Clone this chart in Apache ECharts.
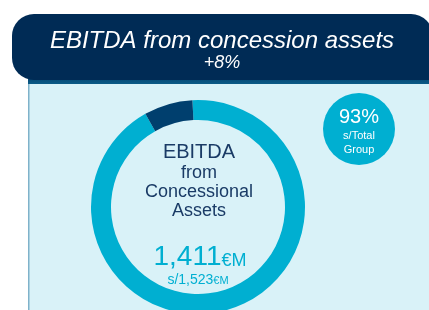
<!DOCTYPE html>
<html><head><meta charset="utf-8">
<script src="https://cdn.jsdelivr.net/npm/echarts@6/dist/echarts.min.js"></script>
<style>html,body{margin:0;padding:0;background:#fff}#c{width:429px;height:310px}</style>
</head><body><div id="c"></div>
<script>
const categories = ['Concessional Assets', 'Other'];
const values = [1411, 112];
const totalGroup = 1523;
const growthLabel = '+8%';
const shareLabel = '93%';
const titleText = 'EBITDA from concession assets';
const centerLines = ['EBITDA', 'from', 'Concessional', 'Assets'];

const chart = echarts.init(document.getElementById('c'));
const fmt = v => v.toLocaleString('en-US');
const F = 'Liberation Sans, Arial, sans-serif';
const navy = '#1A3B66';
const cyan = '#00AFD1';

chart.setOption({
  animation: false,
  title: [
    { text: '{a|' + fmt(values[0]) + '}{b|€M}', left: 200, top: 241, textAlign: 'center', padding: 0,
      textStyle: { fontWeight: 'normal', rich: {
        a: { color: cyan, fontSize: 28, fontFamily: F, fontWeight: 'normal', lineHeight: 30, verticalAlign: 'bottom' },
        b: { color: cyan, fontSize: 18, fontFamily: F, fontWeight: 'normal', lineHeight: 30, verticalAlign: 'bottom', padding: [0,0,1,0] } } }, z: 10 },
    { text: '{a|s/' + fmt(totalGroup) + '}{b|€M}', left: 198, top: 271, textAlign: 'center', padding: 0,
      textStyle: { fontWeight: 'normal', rich: {
        a: { color: cyan, fontSize: 14, fontFamily: F, fontWeight: 'normal', lineHeight: 16, verticalAlign: 'bottom' },
        b: { color: cyan, fontSize: 11, fontFamily: F, fontWeight: 'normal', lineHeight: 16, verticalAlign: 'bottom', padding: [0,0,1,0] } } }, z: 10 }
  ],
  graphic: [
    { type: 'rect', z: 0, shape: { x: 28, y: 70, width: 420, height: 260 }, style: { fill: '#D9F2F8' } },
    { type: 'rect', z: 1, shape: { x: 28, y: 70, width: 1.5, height: 260 }, style: { fill: '#7FB2CA' } },
    { type: 'rect', z: 1, shape: { x: 28, y: 72, width: 420, height: 12 }, style: { fill: new echarts.graphic.LinearGradient(0,0,0,1,[{offset:0,color:'#003A66'},{offset:1,color:'#0B5A86'}]) } },
    { type: 'rect', z: 2, shape: { x: 12, y: 14, width: 421, height: 66, r: [22, 22, 0, 22] }, style: { fill: '#002B55' } },
    { type: 'text', z: 3, style: { x: 222, y: 41, text: titleText, fill: '#fff', font: 'italic 24px ' + F, textAlign: 'center', textVerticalAlign: 'middle' } },
    { type: 'text', z: 3, style: { x: 222, y: 63, text: growthLabel, fill: '#fff', font: 'italic 18px ' + F, textAlign: 'center', textVerticalAlign: 'middle' } },
    { type: 'circle', z: 3, shape: { cx: 359, cy: 129, r: 36 }, style: { fill: cyan } },
    { type: 'text', z: 4, style: { x: 359, y: 117, text: shareLabel, fill: '#fff', font: '20px ' + F, textAlign: 'center', textVerticalAlign: 'middle' } },
    { type: 'text', z: 4, style: { x: 359, y: 136, text: 's/Total', fill: '#fff', font: '11px ' + F, textAlign: 'center', textVerticalAlign: 'middle' } },
    { type: 'text', z: 4, style: { x: 359, y: 150, text: 'Group', fill: '#fff', font: '11px ' + F, textAlign: 'center', textVerticalAlign: 'middle' } },
    { type: 'text', z: 4, style: { x: 199, y: 152, text: centerLines[0], fill: navy, font: '20px ' + F, textAlign: 'center', textVerticalAlign: 'middle' } },
    { type: 'text', z: 4, style: { x: 199, y: 173, text: centerLines[1], fill: navy, font: '18px ' + F, textAlign: 'center', textVerticalAlign: 'middle' } },
    { type: 'text', z: 4, style: { x: 199, y: 192, text: centerLines[2], fill: navy, font: '18px ' + F, textAlign: 'center', textVerticalAlign: 'middle' } },
    { type: 'text', z: 4, style: { x: 199, y: 211, text: centerLines[3], fill: navy, font: '18px ' + F, textAlign: 'center', textVerticalAlign: 'middle' } }
  ],
  series: [{
    type: 'pie',
    z: 3,
    center: [198, 207],
    radius: [87, 107],
    startAngle: 93,
    clockwise: true,
    silent: true,
    label: { show: false },
    labelLine: { show: false },
    itemStyle: { borderWidth: 0 },
    data: categories.map((n, i) => ({ name: n, value: values[i], itemStyle: { color: i === 0 ? cyan : '#003F6E' } }))
  }]
});
</script></body></html>
